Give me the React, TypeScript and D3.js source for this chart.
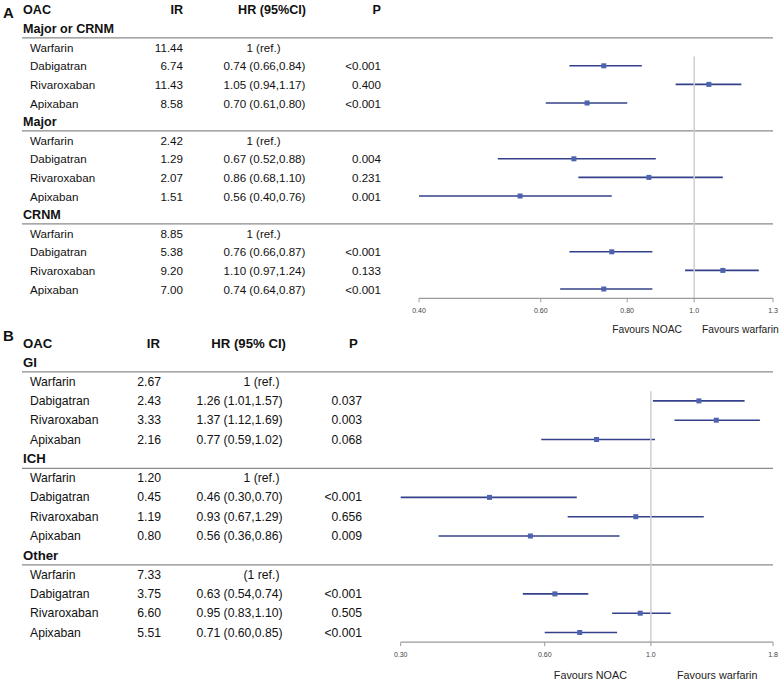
import React from "react";
import * as d3 from "d3";

const drugs = ["Warfarin", "Dabigatran", "Rivaroxaban", "Apixaban"];

const sectionsA = ["Major or CRNM", "Major", "CRNM"];
const irA = [["11.44", "6.74", "11.43", "8.58"], ["2.42", "1.29", "2.07", "1.51"], ["8.85", "5.38", "9.20", "7.00"]];
const hrA = [[1, 0.74, 1.05, 0.70], [1, 0.67, 0.86, 0.56], [1, 0.76, 1.10, 0.74]];
const lowA = [[1, 0.66, 0.94, 0.61], [1, 0.52, 0.68, 0.40], [1, 0.66, 0.97, 0.64]];
const highA = [[1, 0.84, 1.17, 0.80], [1, 0.88, 1.10, 0.76], [1, 0.87, 1.24, 0.87]];
const pA = [["", "<0.001", "0.400", "<0.001"], ["", "0.004", "0.231", "0.001"], ["", "<0.001", "0.133", "<0.001"]];
const refA = ["1 (ref.)", "1 (ref.)", "1 (ref.)"];
const ticksA = [0.4, 0.6, 0.8, 1.0, 1.3];
const tickLabelsA = ["0.40", "0.60", "0.80", "1.0", "1.3"];

const sectionsB = ["GI", "ICH", "Other"];
const irB = [["2.67", "2.43", "3.33", "2.16"], ["1.20", "0.45", "1.19", "0.80"], ["7.33", "3.75", "6.60", "5.51"]];
const hrB = [[1, 1.26, 1.37, 0.77], [1, 0.46, 0.93, 0.56], [1, 0.63, 0.95, 0.71]];
const lowB = [[1, 1.01, 1.12, 0.59], [1, 0.30, 0.67, 0.36], [1, 0.54, 0.83, 0.60]];
const highB = [[1, 1.57, 1.69, 1.02], [1, 0.70, 1.29, 0.86], [1, 0.74, 1.10, 0.85]];
const pB = [["", "0.037", "0.003", "0.068"], ["", "<0.001", "0.656", "0.009"], ["", "<0.001", "0.505", "<0.001"]];
const refB = ["1 (ref.)", "1 (ref.)", "(1 ref.)"];
const ticksB = [0.3, 0.6, 1.0, 1.8];
const tickLabelsB = ["0.30", "0.60", "1.0", "1.8"];

const FONT = "'Liberation Sans', Arial, Helvetica, sans-serif";

type PanelCfg = {
  letter: string;
  hrHeader: string;
  sections: string[];
  ir: string[][];
  hr: number[][];
  low: number[][];
  high: number[][];
  p: string[][];
  refs: string[];
  ticks: number[];
  tickLabels: string[];
  domain: [number, number];
  xRange: [number, number];
  y0: number;
  rowH: number;
  letterY: number;
  bodyFs: number;
  headFs: number;
  col: { irEnd: number; irHeadEnd: number; hrMid: number; refMid: number; hrHeadEnd: number; pEnd: number; pHeadX: number; pHeadAnchor: string };
  favY: number;
  favNoacEnd: number;
  favWarfStart: number;
  favFs: number;
};

const fmt = (v: number) => v.toFixed(2);

function Panel({ c }: { c: PanelCfg }) {
  const x = d3.scaleLog().domain(c.domain).range(c.xRange);
  const yAt = (i: number) => c.y0 + i * c.rowH;
  const lineX0 = 22;
  const lineX1 = c.xRange[1];
  const axisY = yAt(15.5);
  const els: React.ReactNode[] = [];

  // header
  els.push(
    <text key="letter" x={3} y={c.letterY} fontSize={15} fontWeight="bold" dominantBaseline="central">{c.letter}</text>,
    <text key="hOAC" x={23} y={yAt(0)} fontSize={c.headFs} fontWeight="bold" dominantBaseline="central">OAC</text>,
    <text key="hIR" x={c.col.irHeadEnd} y={yAt(0)} fontSize={c.headFs} fontWeight="bold" textAnchor="end" dominantBaseline="central">IR</text>,
    <text key="hHR" x={c.col.hrHeadEnd} y={yAt(0)} fontSize={c.headFs} fontWeight="bold" textAnchor="end" dominantBaseline="central">{c.hrHeader}</text>,
    <text key="hP" x={c.col.pHeadX} y={yAt(0)} fontSize={c.headFs} fontWeight="bold" textAnchor={c.col.pHeadAnchor as any} dominantBaseline="central">P</text>
  );

  c.sections.forEach((s, si) => {
    const base = 1 + si * 5;
    els.push(
      <text key={`s${si}`} x={23} y={yAt(base)} fontSize={c.headFs} fontWeight="bold" dominantBaseline="central">{s}</text>,
      <line key={`sl${si}`} x1={lineX0} x2={lineX1} y1={yAt(base + 0.5)} y2={yAt(base + 0.5)} stroke="#8a8a8a" strokeWidth={1.3} />
    );
    drugs.forEach((d, di) => {
      const y = yAt(base + 1 + di);
      els.push(
        <text key={`d${si}${di}`} x={30} y={y} fontSize={c.bodyFs} dominantBaseline="central">{d}</text>,
        <text key={`ir${si}${di}`} x={c.col.irEnd} y={y} fontSize={c.bodyFs} textAnchor="end" dominantBaseline="central">{c.ir[si][di]}</text>
      );
      if (di === 0) {
        els.push(
          <text key={`hr${si}${di}`} x={c.col.refMid} y={y} fontSize={c.bodyFs} textAnchor="middle" dominantBaseline="central">{c.refs[si]}</text>
        );
      } else {
        const hr = c.hr[si][di], lo = c.low[si][di], hi = c.high[si][di];
        els.push(
          <text key={`hr${si}${di}`} x={c.col.hrMid} y={y} fontSize={c.bodyFs} textAnchor="middle" dominantBaseline="central">{`${fmt(hr)} (${fmt(lo)},${fmt(hi)})`}</text>,
          <text key={`p${si}${di}`} x={c.col.pEnd} y={y} fontSize={c.bodyFs} textAnchor="end" dominantBaseline="central">{c.p[si][di]}</text>,
          <line key={`ci${si}${di}`} x1={x(lo)} x2={x(hi)} y1={y} y2={y} stroke="#34418a" strokeWidth={1.6} />,
          <rect key={`m${si}${di}`} x={x(hr) - 2.5} y={y - 2.5} width={5} height={5} fill="#4d63ad" />
        );
      }
    });
  });

  // reference line at 1
  els.push(
    <line key="ref" x1={x(1)} x2={x(1)} y1={yAt(2.5)} y2={axisY} stroke="#cfcfcf" strokeWidth={1.5} />
  );
  // axis
  els.push(
    <line key="axis" x1={c.xRange[0]} x2={c.xRange[1]} y1={axisY} y2={axisY} stroke="#9a9a9a" strokeWidth={1.2} />
  );
  c.ticks.forEach((t, i) => {
    els.push(
      <line key={`t${i}`} x1={x(t)} x2={x(t)} y1={axisY} y2={axisY + 4} stroke="#9a9a9a" strokeWidth={1} />,
      <text key={`tl${i}`} x={x(t)} y={axisY + 12} fontSize={7} fill="#444" textAnchor="middle" dominantBaseline="central">{c.tickLabels[i]}</text>
    );
  });
  els.push(
    <text key="fn" x={c.favNoacEnd} y={c.favY} fontSize={c.favFs} fill="#222" textAnchor="end" dominantBaseline="central">Favours NOAC</text>,
    <text key="fw" x={c.favWarfStart} y={c.favY} fontSize={c.favFs} fill="#222" dominantBaseline="central">Favours warfarin</text>
  );
  return <g>{els}</g>;
}

const cfgA: PanelCfg = {
  letter: "A",
  hrHeader: "HR (95%CI)",
  sections: sectionsA,
  ir: irA, hr: hrA, low: lowA, high: highA, p: pA, refs: refA,
  ticks: ticksA, tickLabels: tickLabelsA,
  domain: [0.4, 1.3],
  xRange: [419, 773],
  y0: 10,
  rowH: 18.6,
  letterY: 12,
  bodyFs: 11.6,
  headFs: 12.6,
  col: { irEnd: 183, irHeadEnd: 183, hrMid: 264.5, refMid: 263.5, hrHeadEnd: 306, pEnd: 381, pHeadX: 381, pHeadAnchor: "end" },
  favY: 329,
  favNoacEnd: 682,
  favWarfStart: 702,
  favFs: 10.3,
};

const cfgB: PanelCfg = {
  letter: "B",
  hrHeader: "HR (95% CI)",
  sections: sectionsB,
  ir: irB, hr: hrB, low: lowB, high: highB, p: pB, refs: refB,
  ticks: ticksB, tickLabels: tickLabelsB,
  domain: [0.3, 1.8],
  xRange: [400.7, 773],
  y0: 343,
  rowH: 19.3,
  letterY: 335,
  bodyFs: 12.2,
  headFs: 13.2,
  col: { irEnd: 161, irHeadEnd: 160, hrMid: 239.5, refMid: 261.5, hrHeadEnd: 286, pEnd: 362, pHeadX: 353.5, pHeadAnchor: "middle" },
  favY: 675,
  favNoacEnd: 627,
  favWarfStart: 677,
  favFs: 10.8,
};

export default function App() {
  return (
    <svg
      width={782}
      height={683}
      style={{ position: "absolute", left: 0, top: 0, background: "#fff" }}
      fontFamily={FONT}
      fill="#111"
    >
      <rect x={0} y={0} width={782} height={683} fill="#fff" />
      <Panel c={cfgA} />
      <Panel c={cfgB} />
    </svg>
  );
}
